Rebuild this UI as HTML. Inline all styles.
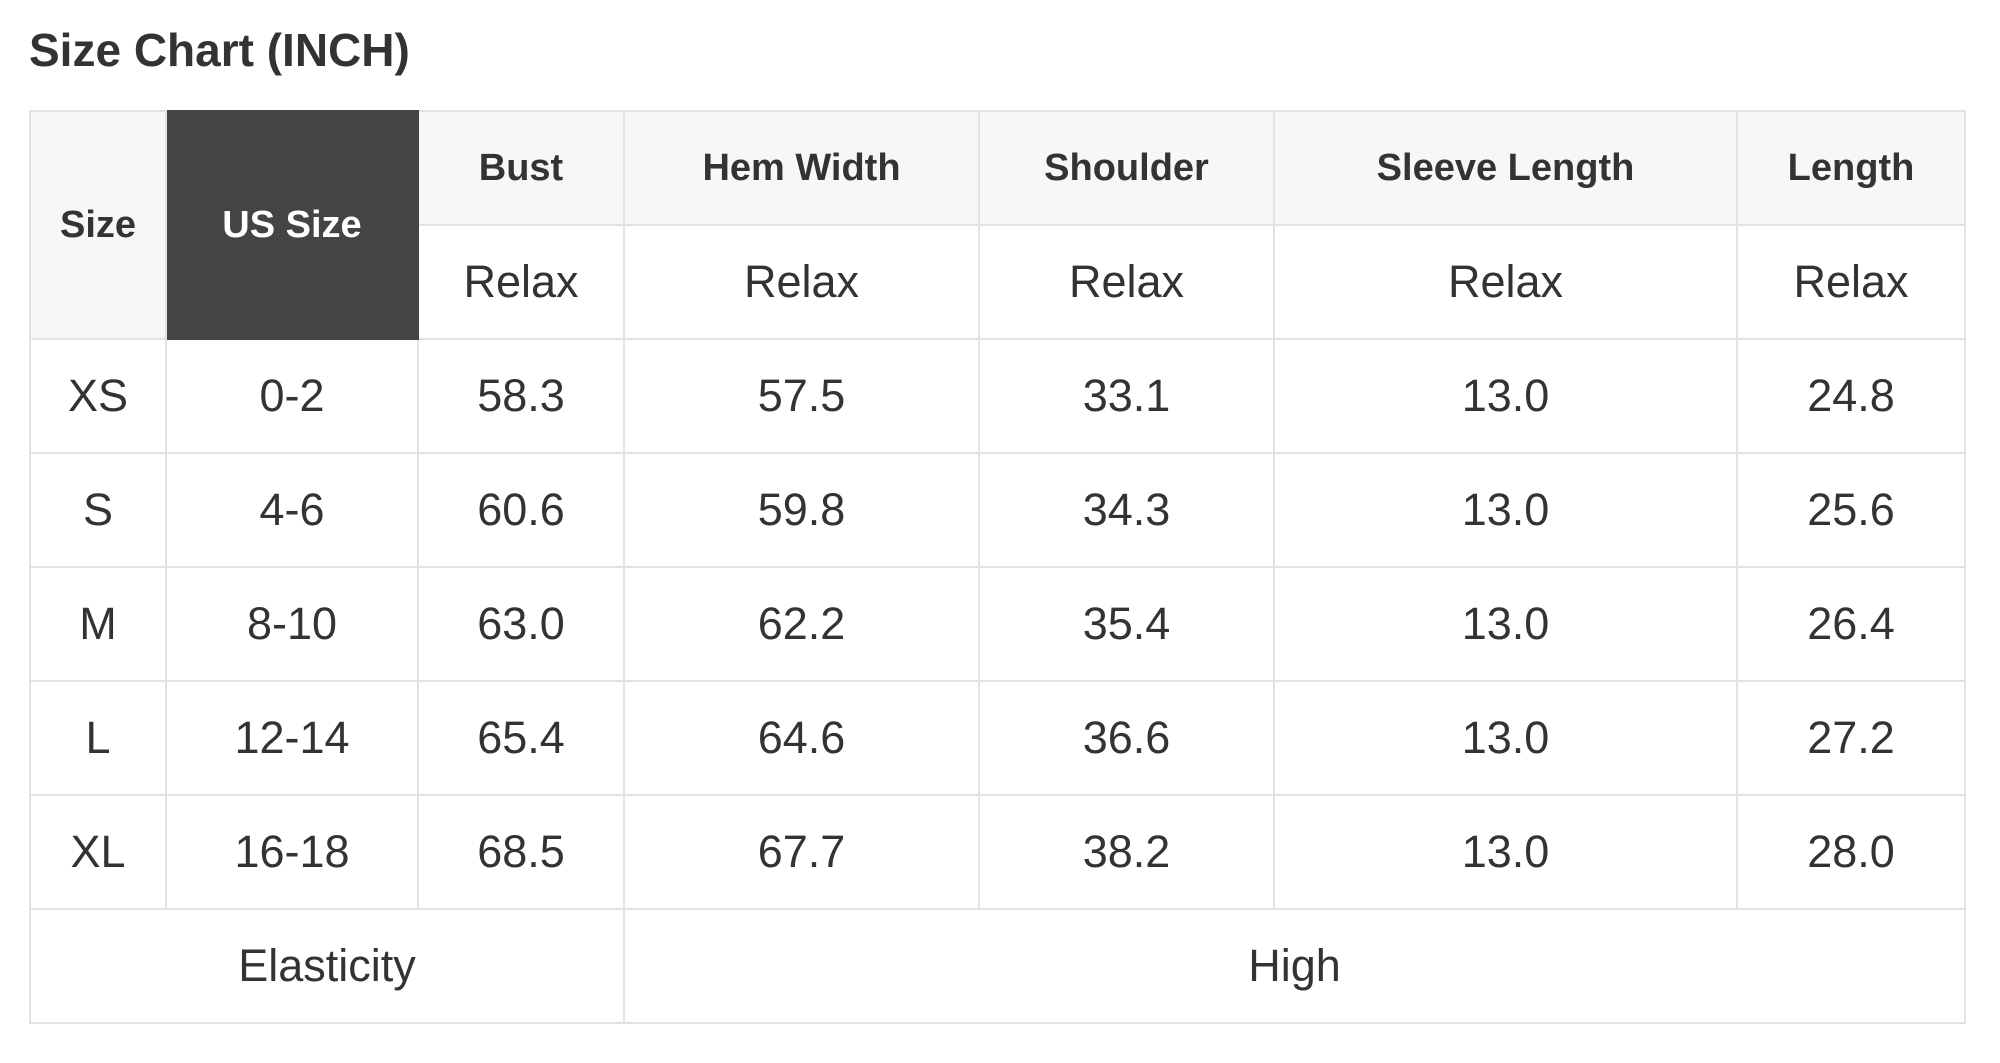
<!DOCTYPE html>
<html><head><meta charset="utf-8"><style>
html,body{margin:0;padding:0;background:#fff;width:2000px;height:1063px;overflow:hidden;font-family:"Liberation Sans",Arial,sans-serif;color:#333}
h1{position:absolute;left:29px;top:26px;margin:0;font-size:46px;font-weight:bold;color:#333;line-height:48px}
table{position:absolute;left:29px;top:110px;border-collapse:collapse;table-layout:fixed}
td{border:2px solid #e2e2e2;text-align:center;vertical-align:middle;padding:0;font-size:45px;color:#333}
.h{background:#f7f7f7;font-weight:bold;font-size:38px;height:112px}
.dk{background:#444;color:#fff;border-color:#444}
tr{height:114px}
</style></head><body>
<h1>Size Chart (INCH)</h1>
<table>
<colgroup><col style="width:136px"><col style="width:252px"><col style="width:206px"><col style="width:355px"><col style="width:295px"><col style="width:463px"><col style="width:228px"></colgroup>
<tr style="height:113px"><td class="h" rowspan="2">Size</td><td class="h dk" rowspan="2">US Size</td><td class="h">Bust</td><td class="h">Hem Width</td><td class="h">Shoulder</td><td class="h">Sleeve Length</td><td class="h">Length</td></tr>
<tr style="height:114px"><td>Relax</td><td>Relax</td><td>Relax</td><td>Relax</td><td>Relax</td></tr>
<tr><td>XS</td><td>0-2</td><td>58.3</td><td>57.5</td><td>33.1</td><td>13.0</td><td>24.8</td></tr>
<tr><td>S</td><td>4-6</td><td>60.6</td><td>59.8</td><td>34.3</td><td>13.0</td><td>25.6</td></tr>
<tr><td>M</td><td>8-10</td><td>63.0</td><td>62.2</td><td>35.4</td><td>13.0</td><td>26.4</td></tr>
<tr><td>L</td><td>12-14</td><td>65.4</td><td>64.6</td><td>36.6</td><td>13.0</td><td>27.2</td></tr>
<tr><td>XL</td><td>16-18</td><td>68.5</td><td>67.7</td><td>38.2</td><td>13.0</td><td>28.0</td></tr>
<tr><td colspan="3">Elasticity</td><td colspan="4">High</td></tr>
</table>
</body></html>
